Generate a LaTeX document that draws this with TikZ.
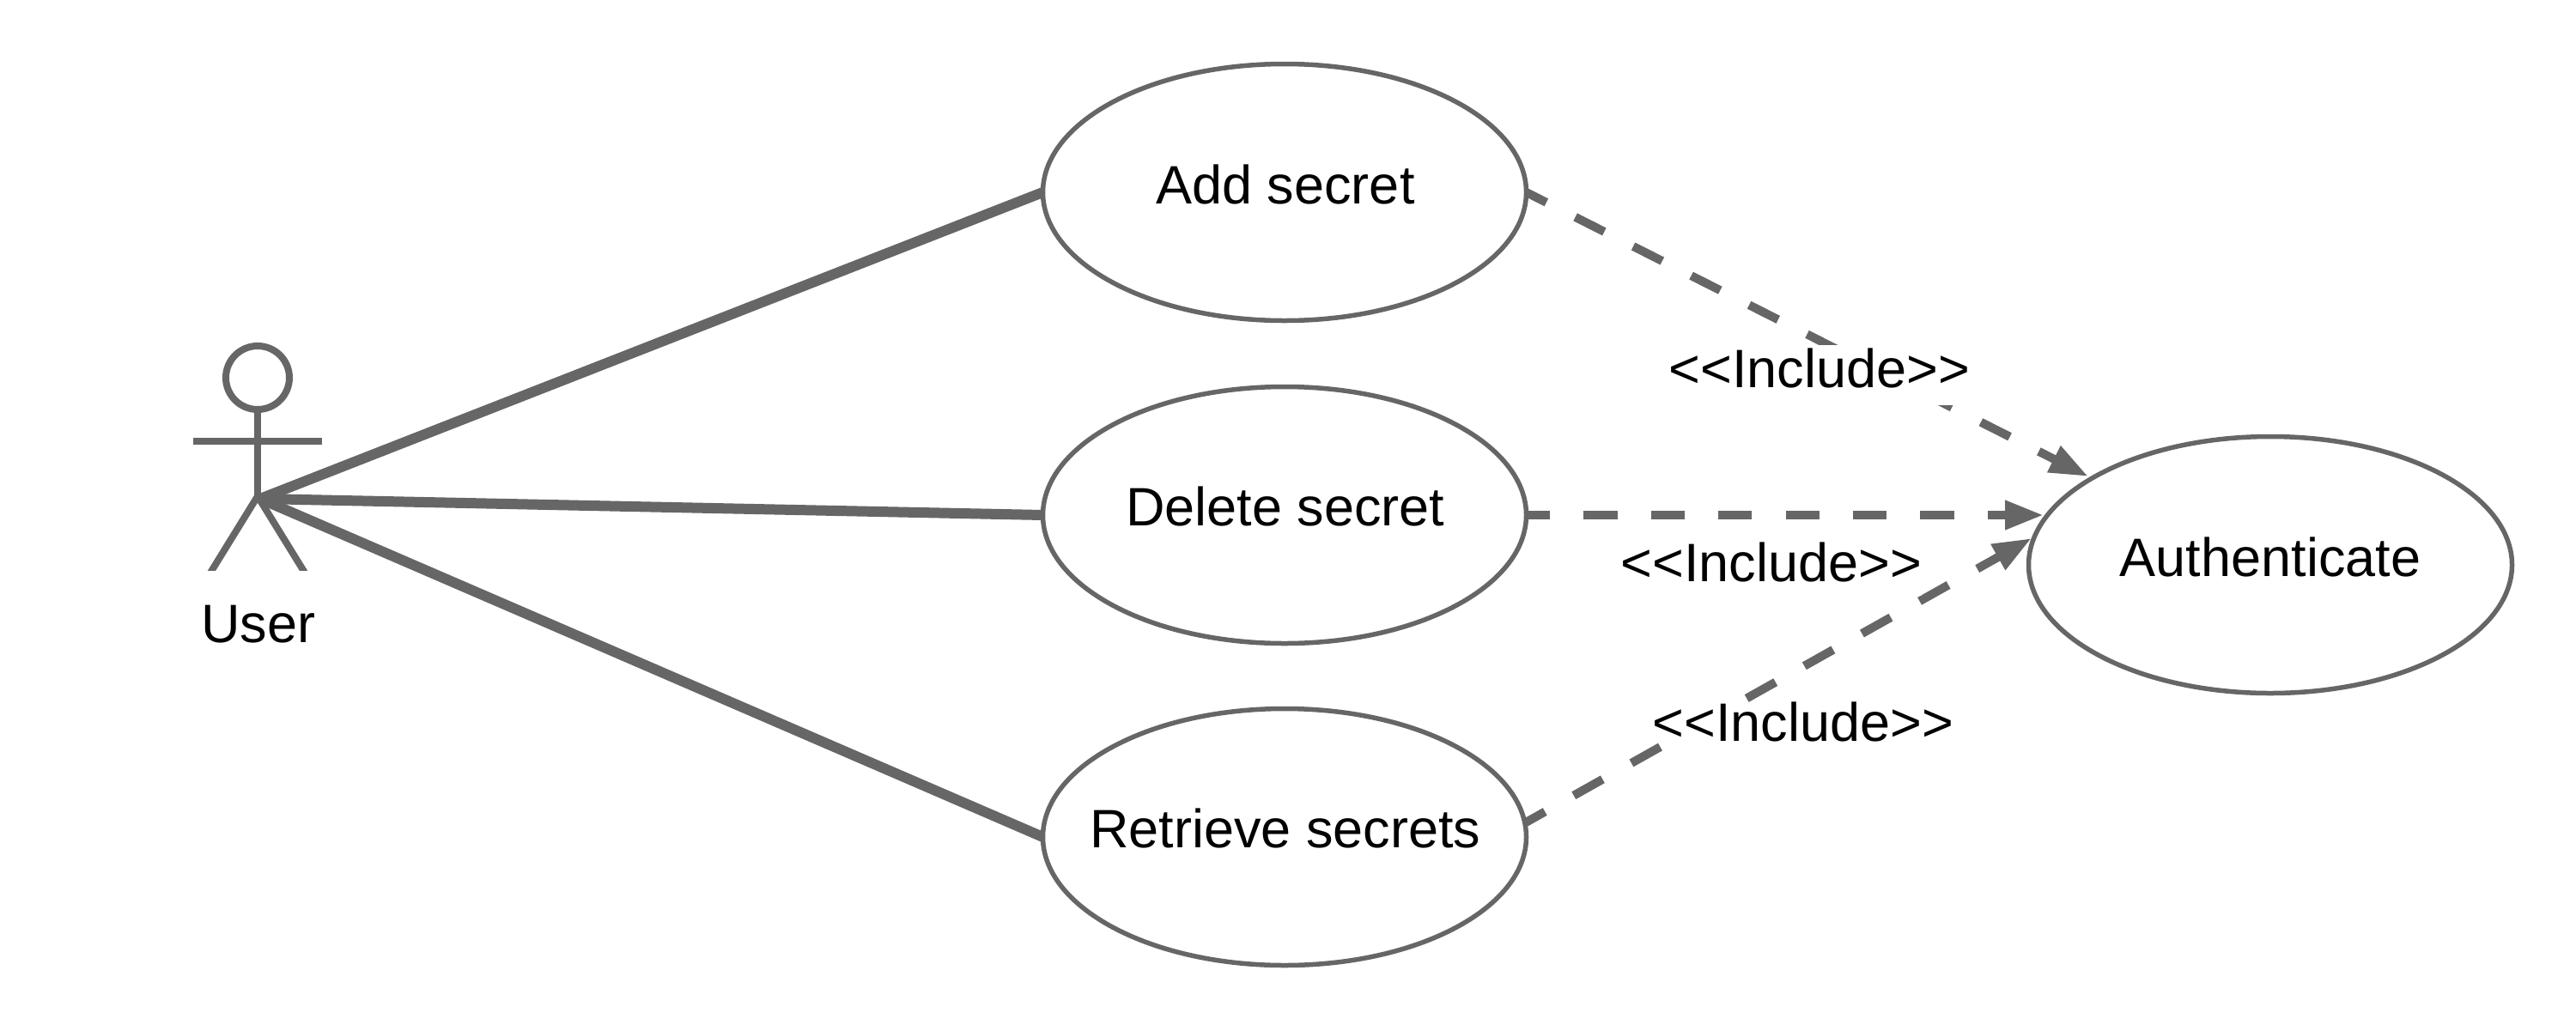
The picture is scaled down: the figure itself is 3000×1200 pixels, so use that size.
\documentclass[tikz,border=0pt]{standalone}
\usepackage{fontspec}
\setmainfont{Liberation Sans}
\usetikzlibrary{arrows.meta,shapes.geometric,calc}
\definecolor{ln}{HTML}{666666}
\tikzset{
  x=1pt,y=-1pt,
  every node/.style={inner sep=0pt,outer sep=0pt,font=\fontsize{63}{76}\selectfont},
  usecase/.style={draw=ln,line width=5.5pt,ellipse,minimum width=563pt,minimum height=299pt,fill=white,align=center},
  assoc/.style={draw=ln,line width=12pt},
  incl/.style={draw=ln,line width=10pt,-{Triangle[length=45pt,width=32pt,fill=ln]}},
  actorline/.style={draw=ln,line width=8pt},
  lbl/.style={fill=white,text height=49pt,text depth=17pt,text=black,anchor=base}
}
\begin{document}
\begin{tikzpicture}
\useasboundingbox (0,0) rectangle (3000,1200);
\coordinate (hip) at (300,578);
\coordinate (hub) at (303,581);
\coordinate (headc) at (300,440);
\node[usecase] (add) at (1496,224) {};
\node[usecase] (del) at (1496,600) {};
\node[usecase] (ret) at (1496,975) {};
\node[usecase] (auth) at (2644,658) {};
\draw[assoc] (hub) -- (add.west);
\draw[assoc] (hub) -- (del.west);
\draw[assoc] (hub) -- (ret.west);
\node (tadd) at (1497,215) {Add secret};
\node (tdel) at (1497,590) {Delete secret};
\node (tret) at (1497,965) {Retrieve secrets};
\node (taut) at (2644,649) {Authenticate};
\node[draw=ln,line width=8pt,circle,minimum size=74pt] (head) at (headc) {};
\coordinate (armL) at (225,514);
\coordinate (armR) at (375,514);
\coordinate (legL) at (247,664);
\coordinate (legR) at (353,664);
\draw[actorline] (head.south) -- (hip);
\draw[actorline] (armL) -- (armR);
\begin{scope}
\clip (150,500) rectangle (450,664);
\draw[actorline] (hip) -- ($(hip)!1.1!(legL)$);
\draw[actorline] (hip) -- ($(hip)!1.1!(legR)$);
\end{scope}
\node[anchor=base] (user) at (301,748) {User};
\coordinate (s3) at (1777,958);
\coordinate (t1) at (2432,555);
\coordinate (t2) at (2380,600);
\coordinate (t3) at (2366,627);
\draw[incl,dash pattern=on 37.8pt off 37.8pt,dash phase=11.6pt] (add.east) -- (t1);
\draw[incl,dash pattern=on 39.2pt off 39.2pt,dash phase=11.5pt] (del.east) -- (t2);
\draw[incl,dash pattern=on 38.5pt off 38.5pt,dash phase=13pt] (s3) -- (t3);
\node[lbl,text depth=21pt] (l1) at (2119,451) {<{}<Include>{}>};
\node[lbl] (l2) at (2063,677) {<{}<Include>{}>};
\node[lbl,text height=42pt,text depth=0pt] (l3) at (2100,863) {<{}<Include>{}>};
\end{tikzpicture}
\end{document}
